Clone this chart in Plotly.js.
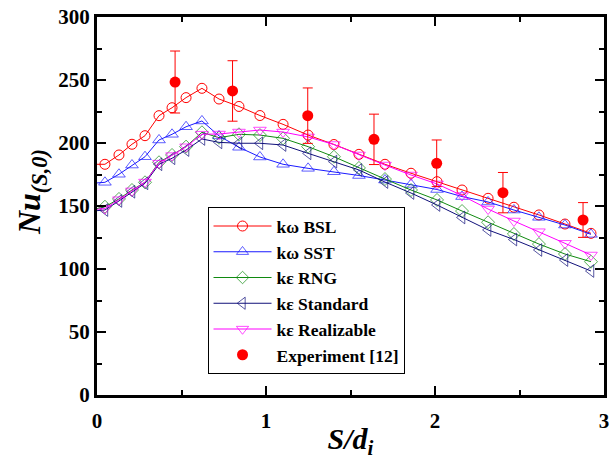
<!DOCTYPE html>
<html><head><meta charset="utf-8">
<script src="https://cdn.plot.ly/plotly-3.0.1.min.js"></script>
<style>html,body{margin:0;padding:0;background:#fff}#chart{width:615px;height:460px}</style>
</head><body><div id="chart"></div>
<script>
// S/d_i positions of the simulation points (shared by all models)
const sPos = [-0.03, 0.047, 0.130, 0.207, 0.284, 0.367, 0.444, 0.527, 0.621, 0.722, 0.840, 0.964, 1.101, 1.249, 1.402, 1.550, 1.704, 1.858, 2.012, 2.160, 2.314, 2.467, 2.615, 2.769, 2.923];
const nuBSL = [183.1, 183.1, 190.5, 199.0, 205.8, 221.7, 228.0, 236.0, 243.4, 234.9, 229.0, 221.8, 214.8, 206.3, 198.8, 191.0, 183.1, 176.0, 169.3, 162.7, 156.1, 149.0, 142.9, 135.7, 128.3];
const nuSST = [168.0, 168.8, 175.2, 182.5, 189.1, 202.4, 206.9, 212.9, 217.5, 205.6, 196.6, 188.9, 183.1, 179.9, 177.2, 174.2, 170.6, 167.1, 163.1, 157.5, 153.2, 146.8, 141.0, 134.9, 127.5];
const nuRNG = [147.0, 149.4, 155.6, 162.7, 168.8, 184.7, 190.5, 197.1, 208.5, 204.2, 206.9, 206.3, 203.7, 197.1, 189.1, 180.2, 171.4, 162.7, 154.8, 146.0, 137.1, 127.8, 119.8, 111.9, 105.8];
const nuStd = [146.0, 146.8, 154.0, 161.3, 168.0, 183.1, 187.9, 194.4, 203.2, 200.5, 199.8, 199.8, 198.4, 191.8, 185.2, 178.6, 169.0, 160.3, 150.8, 140.9, 131.0, 123.4, 115.1, 107.1, 98.4];
const nuReal = [147.0, 148.0, 155.0, 162.0, 169.0, 184.0, 190.0, 197.0, 207.0, 207.1, 208.7, 210.3, 208.7, 204.8, 198.8, 190.5, 182.5, 174.6, 167.5, 158.3, 147.6, 138.1, 129.6, 120.4, 111.1];
// Experiment [12]
const expS = [0.462, 0.802, 1.247, 1.639, 2.010, 2.402, 2.876];
const expNu = [248.4, 241.3, 221.7, 202.9, 183.9, 160.6, 138.9];
const expErr = [24.6, 24.0, 22.0, 20.0, 18.5, 16.0, 13.8];
const names = ['k\u03c9 BSL', 'k\u03c9 SST', 'k\u03b5 RNG', 'k\u03b5 Standard', 'k\u03b5 Realizable', 'Experiment [12]'];
const xTitle = '<i>S/d<sub>i</sub></i>';
const yTitle = '<i>Nu<sub>(S,0)</sub></i>';

const FONT = 'Liberation Serif, Times New Roman, serif';
const hideFirst = (n) => sPos.map((_, i) => i === 0 ? 0 : n);

function model(y, name, color, symbol, size, allMarkers) {
  return {
    x: sPos, y: y, name: name, type: 'scatter', mode: 'lines+markers',
    line: {color: color, width: 1},
    marker: {symbol: symbol, color: color, size: allMarkers ? size : hideFirst(size), line: {color: color, width: 1}},
    cliponaxis: false
  };
}

const traces = [
  model(nuBSL, names[0], '#ff0000', 'circle-open', 10, true),
  model(nuSST, names[1], '#1a1aff', 'triangle-up-open', 11, false),
  model(nuRNG, names[2], '#108a10', 'diamond-open', 10, false),
  model(nuStd, names[3], '#10107a', 'triangle-left-open', 11, false),
  model(nuReal, names[4], '#ff00ff', 'triangle-down-open', 11, false),
  {
    x: expS, y: expNu, name: names[5], type: 'scatter', mode: 'markers',
    marker: {symbol: 'circle', color: '#ff0000', size: 11},
    error_y: {type: 'data', array: expErr, visible: true, color: '#ff0000', thickness: 1, width: 5},
    cliponaxis: false
  }
];

const axisCommon = {
  showgrid: false, zeroline: false, showline: true, linecolor: '#000', linewidth: 3,
  mirror: 'allticks', ticks: 'inside', ticklen: 9, tickwidth: 2, tickcolor: '#000',
  tickfont: {family: FONT, size: 21, color: '#000', weight: 'bold'}
};

const layout = {
  width: 615, height: 460,
  margin: {l: 97, r: 11, t: 17, b: 65},
  paper_bgcolor: '#fff', plot_bgcolor: '#fff',
  showlegend: true,
  xaxis: Object.assign({}, axisCommon, {
    range: [0, 3], tick0: 0, dtick: 1, ticklabelstandoff: 5,
    minor: {dtick: 0.5, ticks: 'inside', ticklen: 5, tickwidth: 2, tickcolor: '#000', showgrid: false},
    title: {text: xTitle, font: {family: FONT, size: 30, color: '#000', weight: 'bold'}, standoff: 0}
  }),
  yaxis: Object.assign({}, axisCommon, {
    range: [0, 300], tick0: 0, dtick: 50,
    minor: {dtick: 25, ticks: 'inside', ticklen: 5, tickwidth: 2, tickcolor: '#000', showgrid: false}
  }),
  annotations: [{
    text: yTitle, textangle: -90, showarrow: false,
    xref: 'paper', yref: 'paper', x: -0.130, y: 0.537, xanchor: 'center', yanchor: 'middle',
    font: {family: FONT, size: 32, color: '#000', weight: 'bold'}
  }],
  legend: {
    x: 0.218, y: 0.497, xanchor: 'left', yanchor: 'top',
    bgcolor: '#fff', bordercolor: '#000', borderwidth: 1,
    font: {family: FONT, size: 17.5, color: '#000', weight: 'bold'},
    itemwidth: 58,
    traceorder: 'normal'
  }
};

Plotly.newPlot('chart', traces, layout, {displayModeBar: false, staticPlot: true});
</script></body></html>
